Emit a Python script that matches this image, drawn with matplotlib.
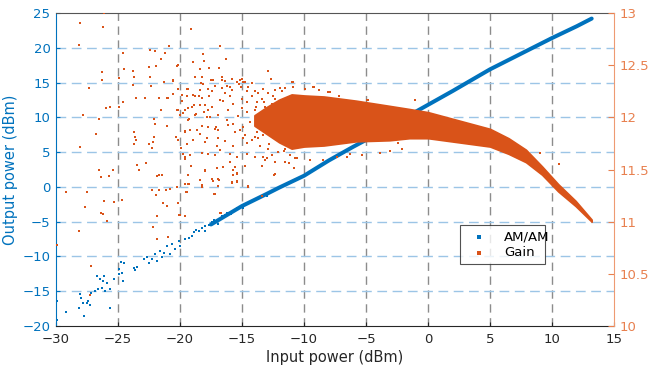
import matplotlib
matplotlib.use("Agg")
import matplotlib.pyplot as plt
import numpy as np

BLUE = "#0072BD"
ORANGE = "#D95319"

# ---- AM/AM (left axis): noisy low-power points ----
amam_x = [-29.89, -29.89, -29.19, -28.17, -28.06, -27.95, -27.74, -27.84, -27.47, -27.25,
          -27.39, -27.14, -26.71, -26.85, -26.58, -26.44, -26.31, -26.17, -26.12, -26.04,
          -25.9, -25.63, -25.36, -25.63, -24.96, -24.9, -24.66, -24.56, -24.77, -24.5,
          -23.75, -23.48, -23.61, -22.94, -22.67, -22.53, -22.26, -21.99, -21.86, -21.64,
          -21.46, -21.32, -21.05, -20.84, -20.65, -20.38, -20.11, -19.97, -19.57, -19.3,
          -19.03, -18.89, -18.49, -18.22, -17.95, -17.68, -17.28, -17.01, -16.6, -16.2,
          -15.66, -15.12, -14.58, -14.04, -13.23, -12.43, -11.62, -10.81,
          -18.7, -18.0, -17.4, -16.9, -16.4, -15.9, -15.4, -14.9, -14.3, -13.7, -13.0, -12.2]
amam_y = [-16.41, -19.14, -17.94, -17.37, -15.45, -15.93, -18.56, -16.65, -16.75, -17.03,
          -16.41, -15.22, -12.82, -14.98, -14.74, -13.21, -14.5, -13.54, -12.82, -14.98,
          -13.78, -14.74, -13.21, -17.46, -12.58, -11.87, -12.34, -13.54, -10.81, -11.0,
          -11.63, -11.48, -11.96, -10.33, -10.05, -10.91, -10.43, -9.71, -10.67, -9.23,
          -10.05, -9.47, -8.52, -9.71, -8.28, -8.99, -7.8, -8.52, -7.56, -7.32,
          -6.99, -6.51, -6.36, -5.89, -5.65, -5.41, -4.69, -4.93, -4.21, -3.73,
          -3.49, -2.78, -2.3, -1.91, -1.1, -0.62, 0.1, 0.81,
          -6.2, -6.4, -5.1, -5.3, -4.0, -3.9, -3.0, -3.1, -2.0, -1.8, -1.3, -0.2]
# dense part of the AM/AM curve
amam_line_x = [-17.5, -15.0, -13.0, -12.0, -10.0, -8.0, -6.0, -4.0, -2.0, -1.0,
               2.0, 5.0, 8.0, 10.0, 12.0, 13.2]
amam_line_y = [-5.4, -2.75, -1.0, -0.1, 1.6, 3.8, 5.8, 7.7, 9.8, 10.8,
               13.8, 16.9, 19.6, 21.4, 23.1, 24.2]

# ---- Gain (right axis): scattered points ----
gain_x = [-28.06, -28.15, -26.18, -26.1, -27.37, -27.85, -28.06, -26.77, -26.5, -26.26,
          -26.3, -26.0, -25.65, -26.53, -26.37, -25.7, -25.38, -24.95, -24.9, -24.57,
          -24.52, -24.57, -23.82, -23.68, -23.76, -23.52, -23.71, -23.66, -23.58, -23.74,
          -23.47, -23.31, -22.8, -22.5, -22.42, -22.37, -22.4, -22.04, -22.47, -22.26,
          -22.18, -22.1, -22.74, -21.88, -21.67, -21.45, -22.1, -22.0, -21.91, -21.56,
          -21.21, -20.86, -21.53, -21.72, -21.26, -21.08, -21.08, -20.94, -20.54, -20.27,
          -20.16, -20.54, -20.6, -20.27, -20.0, -19.84, -20.35, -19.89, -19.6, -19.11,
          -19.41, -19.41, -19.57, -19.25, -19.06, -19.78, -19.57, -19.14, -19.41, -18.92,
          -18.82, -18.76, -18.71, -18.39, -18.12, -18.06, -18.39, -18.17, -18.25, -18.44,
          -17.98, -18.06, -18.25, -18.25, -17.98, -17.98, -17.63, -17.5, -17.63, -17.58,
          -17.31, -17.18, -17.1, -16.85, -16.75, -16.64, -16.32, -16.51, -16.18, -15.97,
          -15.81, -15.43, -15.27, -15.16, -15.05, -14.76, -14.49, -15.97, -15.97, -15.56,
          -15.43, -15.7, -14.49, -12.42, -12.88, -12.69, -10.91, -9.22, -8.8,
          # lower-left part
          -29.19, -29.89, -27.5, -27.66, -28.17, -27.2, -27.26, -26.13, -26.37, -26.18,
          -25.86, -25.35, -24.65, -22.26, -21.96, -21.67, -21.13, -20.78, -21.4, -21.08,
          -21.83, -22.2, -21.88, -20.94, -20.05, -19.57, -20.27, -19.57, -19.3, -19.52,
          -18.25, -17.31, -16.85, -17.23, -16.72, -15.78, -15.38, -14.54, -13.36,
          # around the start of the dense cloud
          -19.6, -19.19, -18.65, -20.13, -18.92, -17.85, -16.91, -16.1, -15.56, -15.16,
          -16.91, -17.04, -16.37, -15.7, -14.89, -14.62, -13.95, -19.59, -19.19, -17.71,
          -17.17, -16.77, -15.96, -15.43, -14.62, -13.95, -13.28, -13.14, -19.33, -17.98,
          -17.04, -16.5, -15.7, -15.43, -14.76, -13.36, -12.34, -18.38, -17.44, -16.91,
          -15.83, -15.43, -19.59, -19.33, -18.25, -16.91, -14.49, -19.46, -17.17, -20.13,
          -20.0, -19.59, -16.77,
          -19.33, -18.79, -17.85, -17.71, -17.17, -16.24, -15.7, -14.89, -14.76, -14.35,
          -14.22, -13.81, -13.55, -13.28, -12.87, -13.0, -12.6, -12.07, -11.53, -11.13,
          -10.72, -12.34,
          -18.3, -16.64, -16.37, -15.0, -14.89, -14.22, -14.62, -13.95, -13.68, -13.28,
          -12.87, -12.34, -11.53, -11.0, -10.86, -20.13, -19.38, -18.38, -17.71, -17.44,
          -16.64, -16.37, -15.83, -19.86, -18.92, -18.25, -18.84, -18.38, -17.44, -16.77,
          -15.96, -15.7, -15.02, -14.62, -14.22, -13.81, -13.41, -13.14, -12.6, -12.34,
          -20.13, -19.73, -19.33, -17.71, -16.91, -16.1, -15.29, -15.02, -14.62, -13.95,
          -13.41,
          # fringe of the dense band
          -10.91, -9.25, -7.9, -4.95, -7.2, -10.59, -9.52, -8.44, -7.37, -6.56,
          -3.87, -3.06, -11.2, -10.8, -8.04, -4.81, -1.05, -5.35, -2.4, 9.03, 10.59,
          -13.9, -13.6, -13.2, -12.9, -12.5, -12.2, -11.8, -11.5, -13.7, -13.3,
          -12.8, -12.4, -12.0, -11.6, -11.9, -9.9, -6.3, -2.1]
gain_y = [12.90, 12.69, 12.87, 13.0, 12.28, 12.02, 11.72, 11.84, 11.98, 12.43,
          12.36, 12.09, 12.10, 11.50, 11.43, 11.44, 11.50, 12.38, 12.10, 12.62,
          12.46, 12.15, 12.44, 12.39, 12.31, 12.19, 11.86, 11.81, 11.78, 11.74,
          11.54, 11.50, 12.19, 12.48, 12.39, 12.30, 12.65, 12.64, 11.74, 11.71,
          11.76, 11.81, 11.56, 11.44, 11.45, 11.45, 11.98, 11.94, 12.49, 12.56,
          12.62, 12.68, 12.07, 12.19, 12.34, 12.19, 11.92, 12.19, 12.22, 12.49,
          12.50, 12.36, 12.35, 12.07, 12.02, 12.16, 11.81, 11.71, 11.87, 12.85,
          12.27, 12.20, 12.07, 11.98, 12.10, 11.65, 11.60, 11.53, 11.74, 12.53,
          12.39, 12.20, 12.03, 11.84, 12.61, 12.54, 12.46, 12.32, 12.39, 12.20,
          12.12, 12.05, 11.92, 11.66, 11.76, 11.49, 12.47, 12.36, 12.20, 12.00,
          12.36, 12.30, 11.91, 12.47, 12.68, 12.36, 12.56, 12.16, 12.30, 12.29,
          12.37, 12.34, 12.32, 12.36, 12.29, 12.34, 12.29, 11.65, 11.57, 11.52,
          11.47, 11.45, 11.34, 11.45, 12.44, 12.37, 12.34, 12.29, 12.26,
          11.28, 10.78, 11.28, 11.14, 10.91, 10.58, 10.30, 11.20, 11.08, 11.07,
          11.01, 11.19, 11.21, 11.30, 11.26, 11.30, 11.30, 11.31, 11.18, 11.15,
          11.05, 10.95, 10.83, 10.85, 11.06, 11.05, 11.33, 11.36, 11.36, 11.28,
          11.35, 11.39, 11.40, 11.27, 11.08, 11.38, 11.39, 11.33, 11.25,
          11.86, 11.88, 11.88, 11.78, 11.78, 11.80, 11.88, 11.93, 11.86, 11.88,
          11.80, 11.73, 11.77, 11.73, 11.80, 11.75, 11.81, 11.62, 11.64, 11.65,
          11.64, 11.69, 11.57, 11.62, 11.65, 11.62, 11.62, 11.59, 11.45, 11.50,
          11.51, 11.52, 11.50, 11.46, 11.53, 11.53, 11.46, 11.40, 11.41, 11.41,
          11.37, 11.38, 11.36, 11.36, 11.33, 11.34, 11.33, 11.28, 11.27, 11.18,
          11.06, 11.05, 11.08,
          11.97, 12.02, 12.00, 11.91, 11.89, 11.97, 11.94, 11.91, 11.83, 11.96,
          11.78, 11.86, 11.73, 11.83, 11.70, 11.61, 11.64, 11.67, 11.57, 11.64,
          11.61, 11.57,
          12.33, 12.39, 12.35, 12.37, 12.34, 12.33, 12.25, 12.25, 12.23, 12.27,
          12.23, 12.26, 12.28, 12.34, 12.29, 12.27, 12.27, 12.26, 12.27, 12.25,
          12.28, 12.23, 12.26, 12.21, 12.21, 12.19, 12.12, 12.12, 12.10, 12.17,
          12.20, 12.13, 12.18, 12.15, 12.20, 12.15, 12.18, 12.10, 12.13, 12.18,
          12.07, 12.04, 12.09, 12.07, 12.02, 12.07, 12.01, 12.09, 12.05, 12.07,
          12.04,
          12.34, 12.29, 12.24, 12.17, 12.20, 11.61, 11.59, 11.59, 11.62, 11.62,
          11.66, 11.68, 11.56, 11.51, 12.24, 12.17, 12.17, 11.64, 11.75, 11.66, 11.55,
          12.10, 11.98, 12.15, 12.05, 12.20, 11.92, 12.25, 11.70, 11.80, 11.88,
          11.74, 11.82, 12.12, 11.68, 12.28, 12.27, 11.65, 11.70]

# dense gain band: envelope
band_x = [-14.0, -13.0, -12.0, -11.0, -10.0, -8.4, -5.8, -3.1, -1.5, 0.0, 2.5, 5.0,
          6.5, 7.9, 9.2, 10.5, 11.9, 13.2]
band_hi = [12.02, 12.10, 12.17, 12.22, 12.21, 12.20, 12.16, 12.11, 12.08, 12.05, 11.97, 11.89,
           11.80, 11.69, 11.53, 11.36, 11.20, 11.02]
band_lo = [11.92, 11.84, 11.76, 11.70, 11.72, 11.73, 11.77, 11.78, 11.80, 11.80, 11.76, 11.72,
           11.65, 11.57, 11.45, 11.29, 11.15, 11.00]

x_ticks = [-30, -25, -20, -15, -10, -5, 0, 5, 10, 15]
yl_ticks = [-20, -15, -10, -5, 0, 5, 10, 15, 20, 25]
yr_ticks = [10, 10.5, 11, 11.5, 12, 12.5, 13]

plt.rcParams['font.family'] = ['DejaVu Sans']
fig = plt.figure(figsize=(6.52, 3.74), dpi=100)
ax = fig.add_axes([0.0859, 0.1283, 0.8558, 0.8369])
ax2 = ax.twinx()

# grid
for xt in x_ticks[1:-1]:
    ax.axvline(xt, color="#8c8c8c", lw=1.0, ls=(0, (6, 4)), zorder=0.5)
for yt in yl_ticks[1:-1]:
    ax.axhline(yt, color="#9cc5e6", lw=1.0, ls=(0, (7, 4)), zorder=0.5)

MS = 4.0
ax.plot(amam_line_x, amam_line_y, color=BLUE, lw=2.9, solid_capstyle="round", zorder=2)
ax.scatter(amam_x, amam_y, s=MS, color=BLUE, marker="s", linewidths=0, zorder=2)

ax2.fill_between(band_x, band_lo, band_hi, color=ORANGE, lw=1.2, edgecolor=ORANGE, zorder=2)
ax2.scatter(gain_x, gain_y, s=MS, color=ORANGE, marker="s", linewidths=0, zorder=3)

ax.set_xlim(-30, 15)
ax.set_ylim(-20, 25)
ax2.set_ylim(10, 13)
ax.set_xticks(x_ticks)
ax.set_yticks(yl_ticks)
ax2.set_yticks(yr_ticks)
ax2.set_yticklabels(["10", "10.5", "11", "11.5", "12", "12.5", "13"])

fs = 9.5
ax.tick_params(axis="x", direction="in", length=3, labelsize=fs, colors="#262626", pad=5, top=False)
ax.tick_params(axis="y", direction="in", length=3, labelsize=fs, colors=BLUE, pad=4)
ax2.tick_params(axis="y", direction="in", length=4, labelsize=fs, colors="#E8804F", pad=4)

for side in ["top", "bottom"]:
    ax.spines[side].set_color("#262626")
    ax2.spines[side].set_visible(False)
ax.spines["top"].set_color("#555555")
ax.spines["left"].set_color(BLUE)
ax2.spines["left"].set_visible(False)
ax2.spines["right"].set_color("#EE9A72")
ax.spines["right"].set_visible(False)

ax.set_xlabel("Input power (dBm)", fontsize=10.5, color="#262626", labelpad=3)
ax.set_ylabel("Output power (dBm)", fontsize=10.5, color=BLUE, labelpad=3)

h1 = ax.scatter([], [], s=5, color=BLUE, marker="s", linewidths=0, label="AM/AM")
h2 = ax2.scatter([], [], s=5, color=ORANGE, marker="s", linewidths=0, label="Gain")
leg = ax2.legend(handles=[h1, h2], loc="lower left", bbox_to_anchor=(0.712, 0.177, 0.177, 0.122),
                 mode="expand", fontsize=9.5, frameon=True, fancybox=False, edgecolor="#262626",
                 handlelength=2.2, handletextpad=0.8, borderpad=0.35, labelspacing=0.25,
                 scatterpoints=1, markerscale=1.0)
leg.get_frame().set_linewidth(0.8)

fig.savefig("out.png", dpi=100)
